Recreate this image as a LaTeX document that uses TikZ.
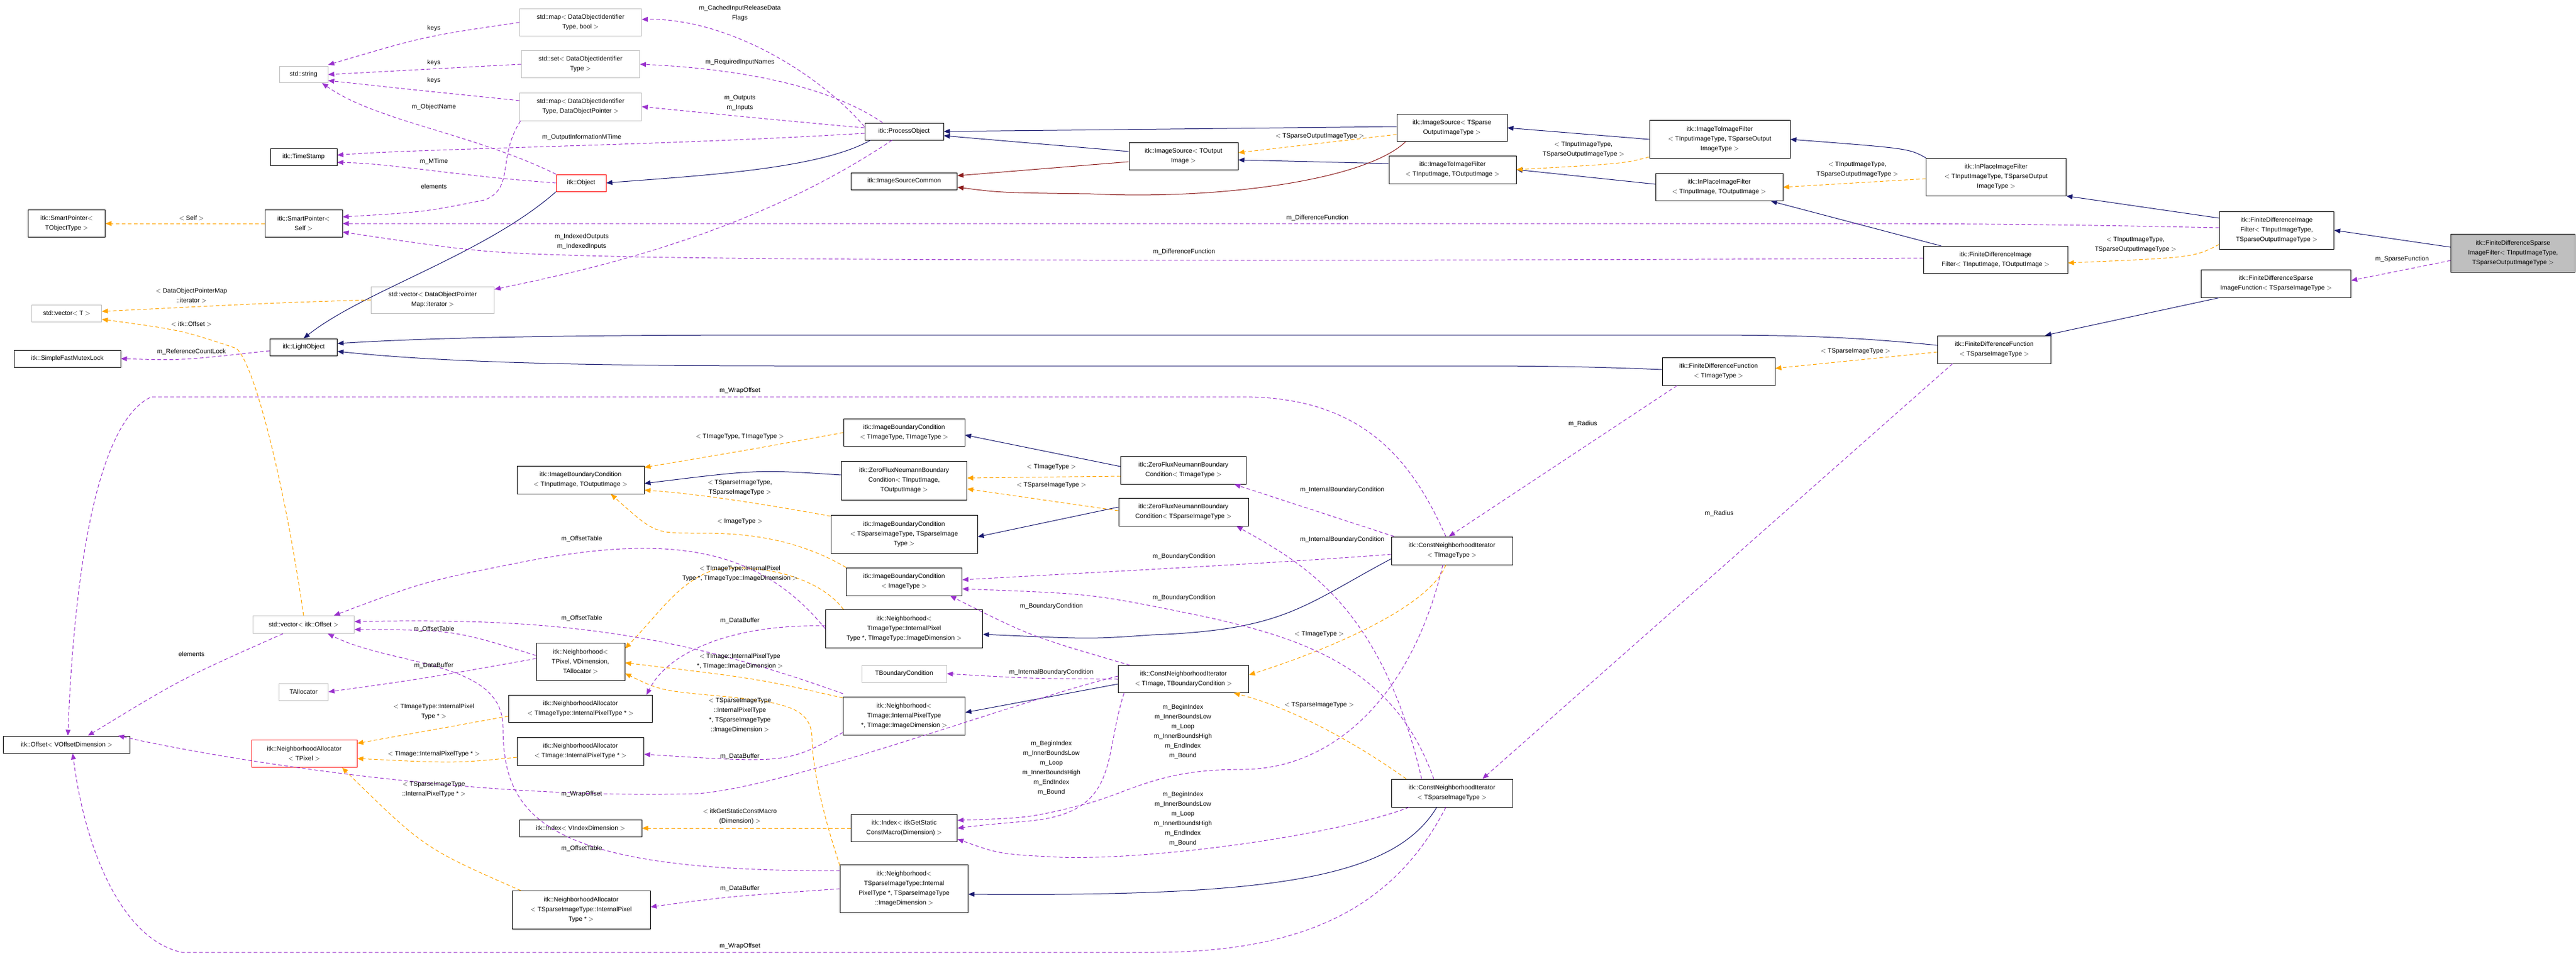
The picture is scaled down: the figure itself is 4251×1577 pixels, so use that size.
\documentclass[tikz,border=0pt]{standalone}
\usepackage{fontspec}
\setmainfont{Liberation Sans}
\usetikzlibrary{arrows.meta,calc}
\definecolor{navy}{HTML}{191970}
\definecolor{purp}{HTML}{9A32CD}
\definecolor{orng}{HTML}{FFA500}
\definecolor{dred}{HTML}{8B1A1A}
\newcommand{\nf}{\fontsize{10.5}{16}\selectfont}
\tikzset{
 box/.style={draw=black, line width=1pt, fill=white, align=center, inner sep=1pt, font=\nf},
 gbox/.style={box, draw=black!25},
 rbox/.style={box, draw=red},
 tip/.style={-{Triangle[length=10pt,width=8pt]}},
 inh/.style={draw=navy, line width=1pt, tip},
 dep/.style={draw=dred, line width=1pt, tip},
 use/.style={draw=purp, line width=1pt, dash pattern=on 6pt off 4pt, tip},
 tmpl/.style={draw=orng, line width=1pt, dash pattern=on 6pt off 4pt, tip},
 lbl/.style={align=center, font=\nf, inner sep=0pt}
}
\begin{document}
\begin{tikzpicture}[x=1pt,y=-1pt]
\useasboundingbox[fill=white] (0,0) rectangle (4251,1577);
% nodes
\node[gbox, minimum width=201, minimum height=45] (map1) at (958,37) {std::map$<$ DataObjectIdentifier\\Type, bool $>$};
\node[gbox, minimum width=195, minimum height=45] (setd) at (958,106) {std::set$<$ DataObjectIdentifier\\Type $>$};
\node[gbox, minimum width=201, minimum height=46] (map2) at (958,176) {std::map$<$ DataObjectIdentifier\\Type, DataObjectPointer $>$};
\node[gbox, minimum width=80, minimum height=27] (str) at (501,123) {std::string};
\node[box, minimum width=110, minimum height=28] (ts) at (501,259) {itk::TimeStamp};
\node[rbox, minimum width=82, minimum height=28] (obj) at (959,302) {itk::Object};
\node[box, minimum width=127, minimum height=45] (spT) at (110,369) {itk::SmartPointer$<$\\TObjectType $>$};
\node[box, minimum width=128, minimum height=45] (spS) at (501,369) {itk::SmartPointer$<$\\Self $>$};
\node[gbox, minimum width=203, minimum height=44] (vecDOP) at (714,495) {std::vector$<$ DataObjectPointer\\Map::iterator $>$};
\node[gbox, minimum width=115, minimum height=28] (vecT) at (110,517) {std::vector$<$ T $>$};
\node[box, minimum width=111, minimum height=28] (lo) at (501,573) {itk::LightObject};
\node[box, minimum width=176, minimum height=28] (mutex) at (111,592) {itk::SimpleFastMutexLock};
\node[box, minimum width=130, minimum height=28] (po) at (1492,217) {itk::ProcessObject};
\node[box, minimum width=175, minimum height=28] (isc) at (1492,299) {itk::ImageSourceCommon};
\node[box, minimum width=180, minimum height=45] (isT) at (1953,258) {itk::ImageSource$<$ TOutput\\Image $>$};
\node[box, minimum width=182, minimum height=45] (isS) at (2396,211) {itk::ImageSource$<$ TSparse\\OutputImageType $>$};
\node[box, minimum width=232, minimum height=63] (itiS) at (2838,230) {itk::ImageToImageFilter\\$<$ TInputImageType, TSparseOutput\\ImageType $>$};
\node[box, minimum width=210, minimum height=46] (itiT) at (2397,280) {itk::ImageToImageFilter\\$<$ TInputImage, TOutputImage $>$};
\node[box, minimum width=210, minimum height=45] (ipT) at (2837,309) {itk::InPlaceImageFilter\\$<$ TInputImage, TOutputImage $>$};
\node[box, minimum width=231, minimum height=62] (ipS) at (3294,292) {itk::InPlaceImageFilter\\$<$ TInputImageType, TSparseOutput\\ImageType $>$};
\node[box, minimum width=189, minimum height=62] (fdS) at (3757,380) {itk::FiniteDifferenceImage\\Filter$<$ TInputImageType,\\TSparseOutputImageType $>$};
\node[box, minimum width=238, minimum height=45] (fdT) at (3293,429) {itk::FiniteDifferenceImage\\Filter$<$ TInputImage, TOutputImage $>$};
\node[box, fill=black!25, minimum width=205, minimum height=63] (main) at (4147,418) {itk::FiniteDifferenceSparse\\ImageFilter$<$ TInputImageType,\\TSparseOutputImageType $>$};
\node[box, minimum width=247, minimum height=46] (fdsf) at (3756,468) {itk::FiniteDifferenceSparse\\ImageFunction$<$ TSparseImageType $>$};
\node[box, minimum width=187, minimum height=46] (fdfS) at (3291,577) {itk::FiniteDifferenceFunction\\$<$ TSparseImageType $>$};
\node[box, minimum width=186, minimum height=46] (fdfT) at (2836,613) {itk::FiniteDifferenceFunction\\$<$ TImageType $>$};
\node[box, minimum width=200, minimum height=46] (cniT) at (2396,909) {itk::ConstNeighborhoodIterator\\$<$ TImageType $>$};
\node[box, minimum width=210, minimum height=46] (ibcIO) at (958,792) {itk::ImageBoundaryCondition\\$<$ TInputImage, TOutputImage $>$};
\node[box, minimum width=200, minimum height=45] (ibcTT) at (1492,714) {itk::ImageBoundaryCondition\\$<$ TImageType, TImageType $>$};
\node[box, minimum width=207, minimum height=64] (zfIO) at (1492,793) {itk::ZeroFluxNeumannBoundary\\Condition$<$ TInputImage,\\TOutputImage $>$};
\node[box, minimum width=207, minimum height=46] (zfT) at (1953,776) {itk::ZeroFluxNeumannBoundary\\Condition$<$ TImageType $>$};
\node[box, minimum width=214, minimum height=46] (zfS) at (1953,845) {itk::ZeroFluxNeumannBoundary\\Condition$<$ TSparseImageType $>$};
\node[box, minimum width=242, minimum height=63] (ibcSS) at (1492,882) {itk::ImageBoundaryCondition\\$<$ TSparseImageType, TSparseImage\\Type $>$};
\node[box, minimum width=191, minimum height=46] (ibcI) at (1492,960) {itk::ImageBoundaryCondition\\$<$ ImageType $>$};
\node[box, minimum width=259, minimum height=63] (nbT) at (1492,1038) {itk::Neighborhood$<$\\TImageType::InternalPixel\\Type *, TImageType::ImageDimension $>$};
\node[gbox, minimum width=167, minimum height=29] (vecO) at (501,1031) {std::vector$<$ itk::Offset $>$};
\node[box, minimum width=146, minimum height=62] (nbP) at (958,1092) {itk::Neighborhood$<$\\TPixel, VDimension,\\TAllocator $>$};
\node[gbox, minimum width=140, minimum height=28] (tb) at (1492,1112) {TBoundaryCondition};
\node[box, minimum width=215, minimum height=45] (cniTB) at (1953,1121) {itk::ConstNeighborhoodIterator\\$<$ TImage, TBoundaryCondition $>$};
\node[gbox, minimum width=81, minimum height=28] (talloc) at (501,1142) {TAllocator};
\node[box, minimum width=237, minimum height=45] (naT) at (958,1170) {itk::NeighborhoodAllocator\\$<$ TImageType::InternalPixelType * $>$};
\node[box, minimum width=201, minimum height=63] (nbI) at (1492,1182) {itk::Neighborhood$<$\\TImage::InternalPixelType\\*, TImage::ImageDimension $>$};
\node[box, minimum width=209, minimum height=28] (off) at (110,1229) {itk::Offset$<$ VOffsetDimension $>$};
\node[rbox, minimum width=174, minimum height=45] (naTP) at (502,1244) {itk::NeighborhoodAllocator\\$<$ TPixel $>$};
\node[box, minimum width=209, minimum height=46] (naI) at (958,1240) {itk::NeighborhoodAllocator\\$<$ TImage::InternalPixelType * $>$};
\node[box, minimum width=200, minimum height=46] (cniS) at (2396,1309) {itk::ConstNeighborhoodIterator\\$<$ TSparseImageType $>$};
\node[box, minimum width=202, minimum height=28] (idxV) at (958,1367) {itk::Index$<$ VIndexDimension $>$};
\node[box, minimum width=175, minimum height=45] (idxG) at (1492,1367) {itk::Index$<$ itkGetStatic\\ConstMacro(Dimension) $>$};
\node[box, minimum width=211, minimum height=79] (nbS) at (1492,1467) {itk::Neighborhood$<$\\TSparseImageType::Internal\\PixelType *, TSparseImageType\\::ImageDimension $>$};
\node[box, minimum width=228, minimum height=63] (naS) at (959,1502) {itk::NeighborhoodAllocator\\$<$ TSparseImageType::InternalPixel\\Type * $>$};

% inheritance
\draw[inh] (obj.south west) .. controls (800,420) and (600,480) .. (lo.north);
\draw[inh] ($(po.south west)+(10,0)$) .. controls (1350,280) and (1150,290) .. (obj.east);
\draw[inh] ($(isT.west)+(0,-8)$) -- ($(po.east)+(0,7)$);
\draw[inh] ($(isS.west)+(0,-2)$) -- (po.east);
\draw[inh] (itiS.west) -- (isS.east);
\draw[inh] ($(itiT.west)+(0,-10)$) -- ($(isT.east)+(0,6)$);
\draw[inh] ($(ipT.west)+(0,-5)$) -- (itiT.east);
\draw[inh] (ipS.north west) .. controls (3150,245) .. (itiS.east);
\draw[inh] ($(fdS.west)+(0,-20)$) -- (ipS.south east);
\draw[inh] ($(fdT.north west)+(30,0)$) -- ($(ipT.south east)+(-20,0)$);
\draw[inh] ($(main.west)+(0,-10)$) -- (fdS.east);
\draw[inh] ($(fdsf.south west)+(30,0)$) -- ($(fdfS.north east)+(-10,0)$);
\draw[inh] ($(fdfS.west)+(0,-7)$) .. controls (3050,555) and (2950,553) .. (2800,553) -- (1300,553) .. controls (900,553) and (700,558) .. ($(lo.east)+(0,-6)$);
\draw[inh] ($(fdfT.west)+(0,-3)$) .. controls (2600,604) and (2500,604) .. (2400,604) -- (1300,604) .. controls (900,604) and (700,595) .. ($(lo.east)+(0,7)$);
\draw[inh] ($(zfT.west)+(0,-6)$) -- ($(ibcTT.east)+(0,4)$);
\draw[inh] ($(zfS.west)+(0,-8)$) -- ($(ibcSS.east)+(0,4)$);
\draw[inh] ($(zfIO.west)+(0,-9)$) .. controls (1250,775) .. ($(ibcIO.east)+(0,6)$);
\draw[inh] ($(cniT.south west)+(0,-10)$) .. controls (2150,1000) and (2120,1040) .. (1900,1048) .. controls (1800,1055) .. ($(nbT.east)+(0,9)$);
\draw[inh] ($(cniTB.west)+(0,8)$) -- ($(nbI.east)+(0,-6)$);
\draw[inh] ($(cniS.south)+(-25,0)$) .. controls (2300,1450) and (2100,1480) .. ($(nbS.east)+(0,9)$);
% dark red
\draw[dep] ($(isT.west)+(0,9)$) -- ($(isc.east)+(0,-9)$);
\draw[dep] ($(isS.south west)+(15,0)$) .. controls (2250,300) and (2000,330) .. (1800,320) .. controls (1650,318) .. ($(isc.east)+(0,10)$);
% template
\draw[tmpl] (spS.west) -- (spT.east);
\draw[tmpl] (vecDOP.west) .. controls (450,500) .. ($(vecT.east)+(0,-3)$);
\draw[tmpl] (vecO.north) .. controls (470,800) and (420,600) .. (390,575) .. controls (300,545) .. ($(vecT.east)+(0,10)$);
\draw[tmpl] ($(isS.south west)+(0,-12)$) -- ($(isT.east)+(0,-6)$);
\draw[tmpl] ($(itiS.south west)+(0,-3)$) .. controls (2680,270) .. ($(itiT.east)+(0,0)$);
\draw[tmpl] ($(ipS.west)+(0,3)$) -- ($(ipT.east)+(0,0)$);
\draw[tmpl] ($(fdS.south west)+(0,-8)$) .. controls (3620,425) .. ($(fdT.east)+(0,5)$);
\draw[tmpl] ($(fdfS.west)+(0,4)$) -- ($(fdfT.east)+(0,-5)$);
\draw[tmpl] (ibcTT.west) .. controls (1250,740) .. ($(ibcIO.north east)+(0,3)$);
\draw[tmpl] ($(ibcSS.north west)+(0,2)$) .. controls (1250,830) and (1150,815) .. ($(ibcIO.east)+(0,17)$);
\draw[tmpl] (ibcI.north west) .. controls (1300,880) and (1200,880) .. (1150,880) .. controls (1080,880) .. ($(ibcIO.south)+(50,0)$);
\draw[tmpl] ($(zfT.west)+(0,10)$) -- ($(zfIO.east)+(0,-4)$);
\draw[tmpl] ($(zfS.west)+(0,-2)$) -- ($(zfIO.east)+(0,14)$);
\draw[tmpl] ($(nbT.north west)+(30,0)$) .. controls (1350,950) and (1250,930) .. (1180,940) .. controls (1120,960) and (1090,1010) .. ($(nbP.north east)+(0,10)$);
\draw[tmpl] ($(nbI.north west)+(0,2)$) .. controls (1250,1120) .. ($(nbP.east)+(0,2)$);
\draw[tmpl] ($(nbS.north west)+(0,2)$) .. controls (1350,1320) and (1340,1250) .. (1340,1220) .. controls (1340,1170) and (1300,1160) .. (1200,1150) .. controls (1090,1140) .. ($(nbP.south east)+(0,-12)$);
\draw[tmpl] ($(naT.west)+(0,12)$) .. controls (740,1200) .. ($(naTP.north east)+(0,6)$);
\draw[tmpl] ($(naI.west)+(0,10)$) .. controls (750,1260) .. ($(naTP.east)+(0,8)$);
\draw[tmpl] ($(naS.north west)+(15,0)$) .. controls (700,1400) .. ($(naTP.south east)+(-25,0)$);
\draw[tmpl] (idxG.west) -- (idxV.east);
\draw[tmpl] ($(cniT.south)+(-10,0)$) .. controls (2360,1000) and (2200,1070) .. ($(cniTB.east)+(0,-7)$);
\draw[tmpl] ($(cniS.north west)+(25,0)$) .. controls (2200,1200) and (2100,1160) .. ($(cniTB.south east)+(-25,0)$);
% usage
\draw[use] (map1.west) .. controls (700,60) .. ($(str.north east)+(0,-2)$);
\draw[use] (setd.west) -- (str.east);
\draw[use] ($(map2.west)+(0,-10)$) .. controls (700,150) .. ($(str.east)+(0,10)$);
\draw[use] (obj.north west) .. controls (780,220) and (620,200) .. ($(str.south east)+(-10,0)$);
\draw[use] ($(po.west)+(0,-8)$) .. controls (1350,120) and (1200,30) .. ($(map1.east)+(0,-5)$);
\draw[use] ($(po.north west)+(30,0)$) .. controls (1380,150) and (1250,115) .. (setd.east);
\draw[use] ($(po.west)+(0,-6)$) .. controls (1300,200) and (1150,185) .. (map2.east);
\draw[use] ($(po.west)+(0,3)$) .. controls (1100,240) and (700,245) .. ($(ts.east)+(0,-3)$);
\draw[use] (obj.west) .. controls (750,290) and (650,270) .. ($(ts.east)+(0,9)$);
\draw[use] ($(map2.south west)+(2,0)$) .. controls (820,260) and (850,310) .. (800,330) .. controls (700,350) .. ($(spS.north east)+(0,12)$);
\draw[use] ($(fdS.west)+(0,-4)$) .. controls (3400,370) and (3200,369) .. (3000,369) -- (spS.east);
\draw[use] ($(fdT.west)+(0,-3)$) .. controls (2600,430) and (1500,432) .. (1050,424) .. controls (800,418) .. ($(spS.east)+(0,14)$);
\draw[use] ($(po.south)+(-20,0)$) .. controls (1250,380) and (1000,440) .. ($(vecDOP.north east)+(0,5)$);
\draw[use] ($(lo.west)+(0,6)$) .. controls (300,595) .. (mutex.east);
\draw[use] ($(main.south west)+(0,-20)$) -- ($(fdsf.east)+(0,-5)$);
\draw[use] ($(fdfT.south west)+(25,0)$) -- ($(cniT.north)+(-5,0)$);
\draw[use] ($(fdfS.south west)+(25,0)$) -- ($(cniS.north east)+(-50,0)$);
\draw[use] ($(cniT.north)+(-10,0)$) .. controls (2330,760) and (2250,655) .. (2050,655) -- (250,655) .. controls (150,700) and (120,1000) .. ($(off.north)+(2,0)$);
\draw[use] ($(cniTB.west)+(0,-5)$) .. controls (1700,1150) and (1300,1300) .. (1150,1310) .. controls (800,1320) and (400,1260) .. ($(off.north east)+(-20,0)$);
\draw[use] ($(cniS.south)+(-10,0)$) .. controls (2300,1500) and (2150,1572) .. (1900,1572) -- (300,1572) .. controls (200,1550) and (140,1400) .. ($(off.south)+(10,0)$);
\draw[use] ($(vecO.south west)+(50,0)$) .. controls (300,1120) .. ($(off.north east)+(-70,0)$);
\draw[use] ($(nbP.west)+(0,-10)$) .. controls (750,1040) .. ($(vecO.east)+(0,8)$);
\draw[use] ($(nbP.west)+(0,-5)$) .. controls (700,1120) .. (talloc.east);
\draw[use] (nbT.west) .. controls (1250,900) and (1100,880) .. (850,930) .. controls (700,960) .. ($(vecO.north)+(50,0)$);
\draw[use] ($(nbI.north west)+(0,-5)$) .. controls (1100,1040) and (900,1020) .. ($(vecO.east)+(0,-5)$);
\draw[use] ($(nbS.west)+(0,-30)$) .. controls (900,1440) and (830,1350) .. (830,1200) .. controls (830,1090) and (650,1100) .. ($(vecO.south)+(40,0)$);
\draw[use] ($(nbT.west)+(0,-5)$) .. controls (1200,1030) and (1100,1080) .. ($(naT.north east)+(-10,0)$);
\draw[use] ($(nbI.south west)+(0,-5)$) .. controls (1300,1260) .. ($(naI.east)+(0,5)$);
\draw[use] ($(nbS.west)+(0,0)$) .. controls (1200,1480) .. ($(naS.east)+(0,-5)$);
\draw[use] ($(cniT.west)+(0,6)$) .. controls (2100,930) and (1800,945) .. ($(ibcI.east)+(0,-3)$);
\draw[use] ($(cniS.north)+(-30,0)$) .. controls (2300,1100) and (2150,1050) .. (1950,1010) .. controls (1800,980) .. ($(ibcI.east)+(0,12)$);
\draw[use] ($(cniTB.north west)+(20,0)$) .. controls (1700,1050) .. ($(ibcI.south east)+(-20,0)$);
\draw[use] ($(cniT.north west)+(5,0)$) -- ($(zfT.south east)+(-20,0)$);
\draw[use] ($(cniS.north)+(-50,0)$) .. controls (2280,1000) and (2150,930) .. ($(zfS.south east)+(-20,0)$);
\draw[use] (cniTB.west) .. controls (1700,1120) .. (tb.east);
\draw[use] ($(cniTB.south west)+(10,0)$) .. controls (1820,1250) and (1850,1340) .. (1700,1355) .. controls (1620,1362) .. (idxG.east);
\draw[use] ($(cniT.south)+(-15,0)$) .. controls (2330,1150) and (2200,1270) .. (2050,1270) .. controls (1920,1270) and (1880,1300) .. (1800,1325) .. controls (1700,1350) .. ($(idxG.north east)+(0,10)$);
\draw[use] ($(cniS.south west)+(30,0)$) .. controls (2200,1380) and (1900,1420) .. (1750,1415) .. controls (1650,1410) .. ($(idxG.south east)+(0,-5)$);

% labels
\node[lbl] at (716,47) {keys};
\node[lbl] at (716,104) {keys};
\node[lbl] at (716,133) {keys};
\node[lbl] at (716,177) {m\_ObjectName};
\node[lbl] at (960,227) {m\_OutputInformationMTime};
\node[lbl] at (716,267) {m\_MTime};
\node[lbl] at (716,308) {elements};
\node[lbl] at (316,360) {$<$ Self $>$};
\node[lbl] at (960,399) {m\_IndexedOutputs\\m\_IndexedInputs};
\node[lbl] at (316,488) {$<$ DataObjectPointerMap\\::iterator $>$};
\node[lbl] at (1221,22) {m\_CachedInputReleaseData\\Flags};
\node[lbl] at (1221,103) {m\_RequiredInputNames};
\node[lbl] at (1221,170) {m\_Outputs\\m\_Inputs};
\node[lbl] at (2178,225) {$<$ TSparseOutputImageType $>$};
\node[lbl] at (2174,360) {m\_DifferenceFunction};
\node[lbl] at (1954,416) {m\_DifferenceFunction};
\node[lbl] at (2613,247) {$<$ TInputImageType,\\TSparseOutputImageType $>$};
\node[lbl] at (3065,280) {$<$ TInputImageType,\\TSparseOutputImageType $>$};
\node[lbl] at (3524,404) {$<$ TInputImageType,\\TSparseOutputImageType $>$};
\node[lbl] at (3964,428) {m\_SparseFunction};
\node[lbl] at (316,535) {$<$ itk::Offset $>$};
\node[lbl] at (316,581) {m\_ReferenceCountLock};
\node[lbl] at (1221,645) {m\_WrapOffset};
\node[lbl] at (3062,580) {$<$ TSparseImageType $>$};
\node[lbl] at (2612,700) {m\_Radius};
\node[lbl] at (2837,848) {m\_Radius};
\node[lbl] at (1221,721) {$<$ TImageType, TImageType $>$};
\node[lbl] at (1735,771) {$<$ TImageType $>$};
\node[lbl] at (1735,801) {$<$ TSparseImageType $>$};
\node[lbl] at (1221,805) {$<$ TSparseImageType,\\TSparseImageType $>$};
\node[lbl] at (1221,861) {$<$ ImageType $>$};
\node[lbl] at (1221,947) {$<$ TImageType::InternalPixel\\Type *, TImageType::ImageDimension $>$};
\node[lbl] at (2215,809) {m\_InternalBoundaryCondition};
\node[lbl] at (2215,891) {m\_InternalBoundaryCondition};
\node[lbl] at (1954,919) {m\_BoundaryCondition};
\node[lbl] at (1954,987) {m\_BoundaryCondition};
\node[lbl] at (1735,1001) {m\_BoundaryCondition};
\node[lbl] at (1221,1025) {m\_DataBuffer};
\node[lbl] at (960,890) {m\_OffsetTable};
\node[lbl] at (960,1021) {m\_OffsetTable};
\node[lbl] at (716,1039) {m\_OffsetTable};
\node[lbl] at (316,1080) {elements};
\node[lbl] at (716,1099) {m\_DataBuffer};
\node[lbl] at (716,1175) {$<$ TImageType::InternalPixel\\Type * $>$};
\node[lbl] at (716,1245) {$<$ TImage::InternalPixelType * $>$};
\node[lbl] at (716,1303) {$<$ TSparseImageType\\::InternalPixelType * $>$};
\node[lbl] at (960,1311) {m\_WrapOffset};
\node[lbl] at (960,1401) {m\_OffsetTable};
\node[lbl] at (1221,1092) {$<$ TImage::InternalPixelType\\*, TImage::ImageDimension $>$};
\node[lbl] at (1221,1181) {$<$ TSparseImageType\\::InternalPixelType\\*, TSparseImageType\\::ImageDimension $>$};
\node[lbl] at (1221,1249) {m\_DataBuffer};
\node[lbl] at (1221,1348) {$<$ itkGetStaticConstMacro\\(Dimension) $>$};
\node[lbl] at (1221,1467) {m\_DataBuffer};
\node[lbl] at (1221,1562) {m\_WrapOffset};
\node[lbl] at (1735,1110) {m\_InternalBoundaryCondition};
\node[lbl] at (1735,1268) {m\_BeginIndex\\m\_InnerBoundsLow\\m\_Loop\\m\_InnerBoundsHigh\\m\_EndIndex\\m\_Bound};
\node[lbl] at (1952,1208) {m\_BeginIndex\\m\_InnerBoundsLow\\m\_Loop\\m\_InnerBoundsHigh\\m\_EndIndex\\m\_Bound};
\node[lbl] at (1952,1352) {m\_BeginIndex\\m\_InnerBoundsLow\\m\_Loop\\m\_InnerBoundsHigh\\m\_EndIndex\\m\_Bound};
\node[lbl] at (2177,1047) {$<$ TImageType $>$};
\node[lbl] at (2177,1164) {$<$ TSparseImageType $>$};
\end{tikzpicture}
\end{document}
